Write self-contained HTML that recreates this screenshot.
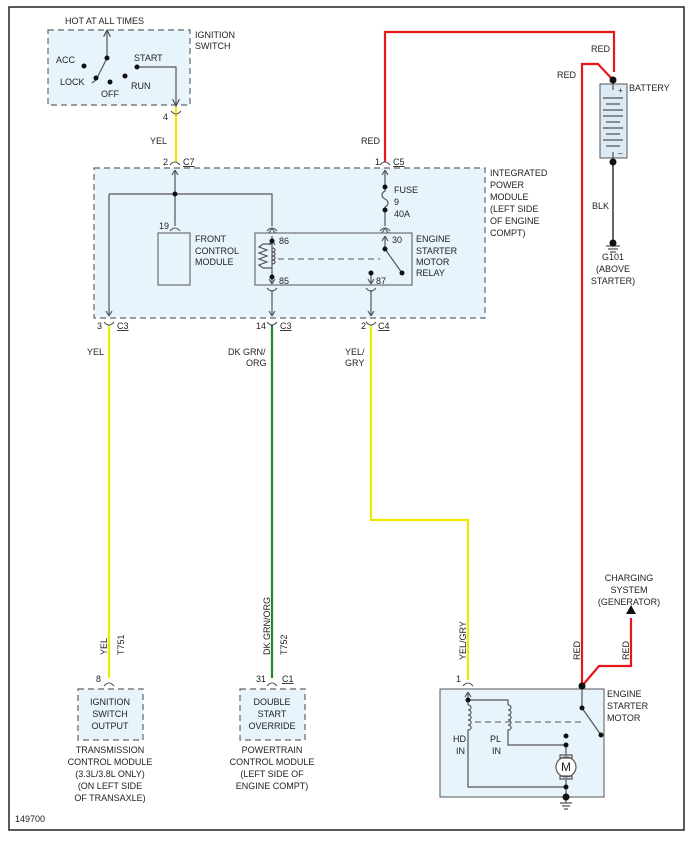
<!DOCTYPE html>
<html><head><meta charset="utf-8"><style>
html,body{margin:0;padding:0;background:#fff}
svg{display:block;font-family:"Liberation Sans",sans-serif;font-size:9px;fill:#222}
</style></head><body>
<svg width="690" height="843" viewBox="0 0 690 843" xmlns="http://www.w3.org/2000/svg">
<defs>
<marker id="ar" viewBox="0 0 10 10" refX="9" refY="5" markerWidth="7" markerHeight="7" orient="auto-start-reverse"><path d="M1,1 L9,5 L1,9" fill="none" stroke="#444" stroke-width="1.3"/></marker>
</defs>
<rect x="9" y="7" width="675" height="823" fill="#fff" stroke="#222" stroke-width="1.5"/>
<!-- boxes -->
<g fill="#e8f4fc" stroke="#666" stroke-dasharray="6,4" stroke-width="1.2">
<rect x="48" y="30" width="142" height="75"/>
<rect x="94" y="168" width="391" height="150"/>
<rect x="78" y="689" width="65" height="51"/>
<rect x="240" y="689" width="65" height="51"/>
</g>
<rect x="440" y="689" width="164" height="108" fill="#e8f4fc" stroke="#555" stroke-width="1"/>
<rect x="158" y="233" width="32" height="52" fill="#e8f4fc" stroke="#555"/>
<rect x="255" y="233" width="157" height="52" fill="#e8f4fc" stroke="#555"/>
<rect x="600" y="84" width="27" height="74" fill="#dbeaf5" stroke="#555"/>
<!-- wires -->
<g fill="none" stroke-width="2.2">
<path d="M176,107 V162" stroke="#f0e800"/>
<path d="M109,325 V678" stroke="#f0e800"/>
<path d="M272,325 V678" stroke="#1a8a1a"/>
<path d="M371,325 V520 H468 V680" stroke="#f0e800"/>
<path d="M385,162 V32 H614 V72 M582,686 V64 H598 L613,80" stroke="#e8161b"/>
<path d="M582,686 L599,666 H631 V618" stroke="#e8161b"/>
</g>
<path d="M626,614 L631,605 L636,614 Z" fill="#111"/>
<!-- gray wiring -->
<g fill="none" stroke="#555" stroke-width="1.2">
<path d="M107,30 V58 M107,58 L96,80" marker-start="url(#ar)"/>
<path d="M96,80 L92,83"/>
<path d="M137,67 H176 V106" marker-end="url(#ar)"/>
<path d="M175,170 V226 M109,194 H272 V226 M109,194 V316" />
<path d="M109,316 l-3,-5 M109,316 l3,-5 M175,170 l-3,5 M175,170 l3,5 M272,228 l-3,5 M272,228 l3,5"/>
<path d="M272,290 V316 M272,316 l-3,-5 M272,316 l3,-5"/>
<path d="M371,290 V316 M371,316 l-3,-5 M371,316 l3,-5"/>
<path d="M385,170 V187 M385,210 V226 M385,170 l-3,5 M385,170 l3,5 M385,228 l-3,5 M385,228 l3,5"/>
<path d="M385,187 v4 c-4,2 -4,6 0,8 c4,2 4,6 0,8 v3"/>
<!-- relay -->
<path d="M272,240 V270 M272,244 h-9 l-4,3 l8,3 l-8,3 l8,3 l-8,3 l8,3 l-8,3 l4,3 h9"/>
<path d="M272,248 c4,0 4,4 0,4 c4,0 4,4 0,4 c4,0 4,4 0,4 c4,0 4,4 0,4"/>
<path d="M272,270 V284 M272,284 l-3,-5 M272,284 l3,-5 M272,240 l-3,5 M272,240 l3,5 M272,236 V242"/>
<path d="M385,236 V249 L402,273 M385,236 l-3,5 M385,236 l3,5"/>
<path d="M371,273 V284 M371,284 l-3,-5 M371,284 l3,-5"/>
<path d="M278,259 H380" stroke-dasharray="6,4" stroke="#777"/>
<!-- battery -->
<path d="M613,80 V90 M613,152 V162 M603,98 h20 M606,104 h14 M603,110 h20 M603,116 h20 M606,122 h14 M603,128 h20 M606,134 h14 M603,140 h20 M606,146 h14" />
<path d="M613,162 V240" stroke="#666" stroke-width="2"/>
<path d="M606,246 h14 M608,249 h10 M610,252 h6"/>
<!-- starter -->
<path d="M468,692 V700 M468,692 l-3,5 M468,692 l3,5 M468,700 H508 V705 M468,700 V705"/>
<path d="M468,705 c4,0 4,5 0,5 c4,0 4,5 0,5 c4,0 4,5 0,5 c4,0 4,5 0,5 c4,0 4,5 0,5 V787 H566"/>
<path d="M508,705 c4,0 4,5 0,5 c4,0 4,5 0,5 c4,0 4,5 0,5 c4,0 4,5 0,5 c4,0 4,5 0,5 V745 H566 V755 M566,779 V797"/>
<path d="M582,689 V708 L601,735"/>
<path d="M475,722 H585" stroke-dasharray="6,4" stroke="#777"/>
<circle cx="566" cy="767" r="10" fill="#fff"/>
<path d="M560,755 h12 v3 h-12 z M560,776 h12 v3 h-12 z"/>
<path d="M560,803 h12 M562,806 h8 M564,809 h4"/>
<path d="M566,797 V803"/>
</g>
<!-- connectors -->
<g fill="none" stroke="#555" stroke-width="1.1">
<path d="M170,165 q5,-6 10,0 M380,165 q5,-6 10,0 M171,111 q5,6 10,0"/>
<path d="M104,322 q5,6 10,0 M267,322 q5,6 10,0 M366,322 q5,6 10,0"/>
<path d="M170,231 q5,-6 10,0 M267,231 q5,-6 10,0 M380,231 q5,-6 10,0"/>
<path d="M267,288 q5,6 10,0 M366,288 q5,6 10,0"/>
<path d="M104,686 q5,-6 10,0 M267,686 q5,-6 10,0 M463,686 q5,-6 10,0"/>
</g>
<g fill="#111">
<circle cx="107" cy="58" r="2.5"/><circle cx="84" cy="66" r="2.5"/><circle cx="96" cy="78" r="2.5"/><circle cx="110" cy="82" r="2.5"/><circle cx="125" cy="76" r="2.5"/><circle cx="137" cy="67" r="2.5"/>
<circle cx="175" cy="194" r="2.5"/><circle cx="385" cy="187" r="2.5"/><circle cx="385" cy="210" r="2.5"/>
<circle cx="272" cy="241" r="2.5"/><circle cx="272" cy="277" r="2.5"/><circle cx="385" cy="249" r="2.5"/><circle cx="402" cy="273" r="2.5"/><circle cx="371" cy="273" r="2.5"/>
<circle cx="613" cy="80" r="3.5"/><circle cx="613" cy="162" r="3.5"/><circle cx="613" cy="243" r="3.5"/>
<circle cx="582" cy="686" r="3.5"/><circle cx="582" cy="708" r="2.5"/><circle cx="601" cy="735" r="2.5"/>
<circle cx="468" cy="700" r="2.5"/><circle cx="566" cy="736" r="2.5"/><circle cx="566" cy="745" r="2.5"/><circle cx="566" cy="787" r="2.5"/><circle cx="566" cy="797" r="3.5"/>
</g>
<!-- text -->
<text x="65" y="24">HOT AT ALL TIMES</text>
<text x="195" y="38">IGNITION</text><text x="195" y="49">SWITCH</text>
<text x="56" y="63">ACC</text><text x="60" y="85">LOCK</text><text x="101" y="97">OFF</text><text x="131" y="89">RUN</text><text x="134" y="61">START</text>
<text x="163" y="120">4</text><text x="150" y="144">YEL</text>
<text x="163" y="165">2</text><text x="183" y="165" text-decoration="underline">C7</text>
<text x="375" y="165">1</text><text x="393" y="165" text-decoration="underline">C5</text>
<text x="361" y="144">RED</text>
<text x="490" y="176">INTEGRATED</text><text x="490" y="188">POWER</text><text x="490" y="200">MODULE</text><text x="490" y="212">(LEFT SIDE</text><text x="490" y="224">OF ENGINE</text><text x="490" y="236">COMPT)</text>
<text x="394" y="193">FUSE</text><text x="394" y="205">9</text><text x="394" y="217">40A</text>
<text x="159" y="229">19</text>
<text x="195" y="242">FRONT</text><text x="195" y="254">CONTROL</text><text x="195" y="265">MODULE</text>
<text x="279" y="244">86</text><text x="279" y="284">85</text><text x="392" y="243">30</text><text x="376" y="284">87</text>
<text x="416" y="242">ENGINE</text><text x="416" y="254">STARTER</text><text x="416" y="265">MOTOR</text><text x="416" y="276">RELAY</text>
<text x="97" y="329">3</text><text x="117" y="329" text-decoration="underline">C3</text>
<text x="256" y="329">14</text><text x="280" y="329" text-decoration="underline">C3</text>
<text x="361" y="329">2</text><text x="378" y="329" text-decoration="underline">C4</text>
<text x="87" y="355">YEL</text>
<text x="228" y="355">DK GRN/</text><text x="246" y="366">ORG</text>
<text x="345" y="355">YEL/</text><text x="345" y="366">GRY</text>
<text x="591" y="52">RED</text><text x="557" y="78">RED</text>
<text x="629" y="91">BATTERY</text>
<text x="618" y="93" font-size="8">+</text><text x="618" y="156" font-size="8">–</text>
<text x="592" y="209">BLK</text>
<text x="613" y="260" text-anchor="middle">G101</text><text x="613" y="272" text-anchor="middle">(ABOVE</text><text x="613" y="284" text-anchor="middle">STARTER)</text>
<text x="629" y="581" text-anchor="middle">CHARGING</text><text x="629" y="593" text-anchor="middle">SYSTEM</text><text x="629" y="605" text-anchor="middle">(GENERATOR)</text>
<text transform="translate(107,655) rotate(-90)">YEL</text>
<text transform="translate(124,655) rotate(-90)">T751</text>
<text transform="translate(270,655) rotate(-90)">DK GRN/ORG</text>
<text transform="translate(287,655) rotate(-90)">T752</text>
<text transform="translate(466,660) rotate(-90)">YEL/GRY</text>
<text transform="translate(580,660) rotate(-90)">RED</text>
<text transform="translate(629,660) rotate(-90)">RED</text>
<text x="96" y="682">8</text><text x="256" y="682">31</text><text x="282" y="682" text-decoration="underline">C1</text><text x="456" y="682">1</text>
<g text-anchor="middle">
<text x="110" y="705">IGNITION</text><text x="110" y="717">SWITCH</text><text x="110" y="729">OUTPUT</text>
<text x="272" y="705">DOUBLE</text><text x="272" y="717">START</text><text x="272" y="729">OVERRIDE</text>
<text x="110" y="753">TRANSMISSION</text><text x="110" y="765">CONTROL MODULE</text><text x="110" y="777">(3.3L/3.8L ONLY)</text><text x="110" y="789">(ON LEFT SIDE</text><text x="110" y="801">OF TRANSAXLE)</text>
<text x="272" y="753">POWERTRAIN</text><text x="272" y="765">CONTROL MODULE</text><text x="272" y="777">(LEFT SIDE OF</text><text x="272" y="789">ENGINE COMPT)</text>
<text x="566" y="771" font-size="12">M</text>
</g>
<text x="607" y="697">ENGINE</text><text x="607" y="709">STARTER</text><text x="607" y="721">MOTOR</text>
<text x="453" y="742">HD</text><text x="456" y="754">IN</text><text x="490" y="742">PL</text><text x="492" y="754">IN</text>
<text x="15" y="822">149700</text>
</svg>
</body></html>
